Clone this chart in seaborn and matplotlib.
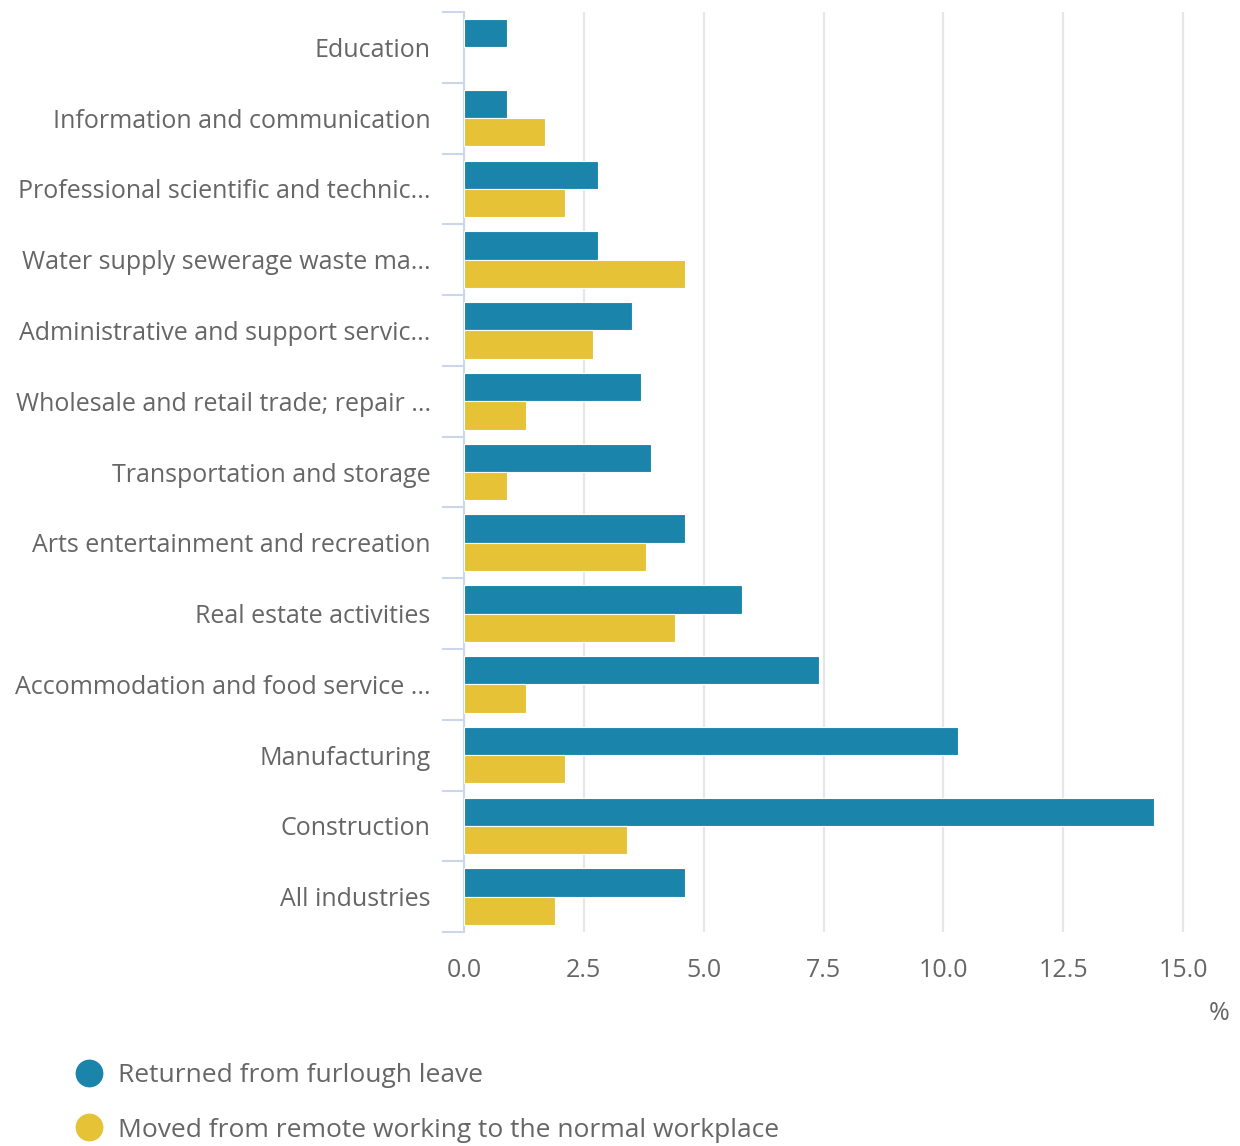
import pandas as pd
import numpy as np
import matplotlib.pyplot as plt
import seaborn as sns
from matplotlib.lines import Line2D

industries = [
    "Education",
    "Information and communication",
    "Professional scientific and technic...",
    "Water supply sewerage waste ma...",
    "Administrative and support servic...",
    "Wholesale and retail trade; repair ...",
    "Transportation and storage",
    "Arts entertainment and recreation",
    "Real estate activities",
    "Accommodation and food service ...",
    "Manufacturing",
    "Construction",
    "All industries",
]
furlough = [0.9, 0.9, 2.8, 2.8, 3.5, 3.7, 3.9, 4.6, 5.8, 7.4, 10.3, 14.4, 4.6]
remote = [np.nan, 1.7, 2.1, 4.6, 2.7, 1.3, 0.9, 3.8, 4.4, 1.3, 2.1, 3.4, 1.9]
series = ["Returned from furlough leave", "Moved from remote working to the normal workplace"]
colors = ["#1b84ab", "#e5c236"]

df = pd.DataFrame({"industry": industries, series[0]: furlough, series[1]: remote})
long_df = df.melt(id_vars="industry", var_name="series", value_name="pct")

sns.set_style("white")
plt.rcParams["font.family"] = ["Open Sans", "DejaVu Sans"]
grey = "#666666"

fig = plt.figure(figsize=(12.4, 11.46), dpi=100)
ax = fig.add_axes([0.3742, 0.1867, 0.5876, 0.8028])

sns.barplot(data=long_df, y="industry", x="pct", hue="series", order=industries,
            hue_order=series, palette=colors, saturation=1, orient="h", width=0.8,
            errorbar=None, edgecolor="white", linewidth=0.8, legend=False,
            ax=ax, zorder=3)

ax.set_xlim(0, 15.2)
ax.set_ylim(len(industries) - 0.5, -0.5)
ax.set_xticks([0, 2.5, 5, 7.5, 10, 12.5, 15])
ax.set_xticklabels(["0.0", "2.5", "5.0", "7.5", "10.0", "12.5", "15.0"])
ax.xaxis.grid(True, color="#e6e6e6", linewidth=1.6, zorder=0)
ax.set_axisbelow(True)
ax.set_xlabel("")
ax.set_ylabel("")

for s in ["top", "right", "bottom"]:
    ax.spines[s].set_visible(False)
ax.spines["left"].set_color("#ccd6eb")
ax.spines["left"].set_linewidth(1.5)

ax.tick_params(axis="x", length=0, pad=18.5, labelsize=18, labelcolor=grey)
ax.tick_params(axis="y", which="major", length=0, pad=24, labelsize=18, labelcolor=grey)
ax.set_yticks(np.arange(-0.5, len(industries), 1), minor=True)
ax.tick_params(axis="y", which="minor", left=True, length=16, width=1.5, color="#ccd6eb")

fig.text(1230 / 1240, 1 - 1014 / 1146, "%", ha="right", va="center", fontsize=18, color=grey)

handles = [Line2D([], [], marker="o", linestyle="", markersize=19, color=c) for c in colors]
fig.legend(handles, series, loc="upper left", bbox_to_anchor=(0.042, 0.093), frameon=False,
           fontsize=19, labelcolor=grey, handlelength=1.0, handletextpad=0.6, labelspacing=1.12)

fig.savefig("out.png", dpi=100)
